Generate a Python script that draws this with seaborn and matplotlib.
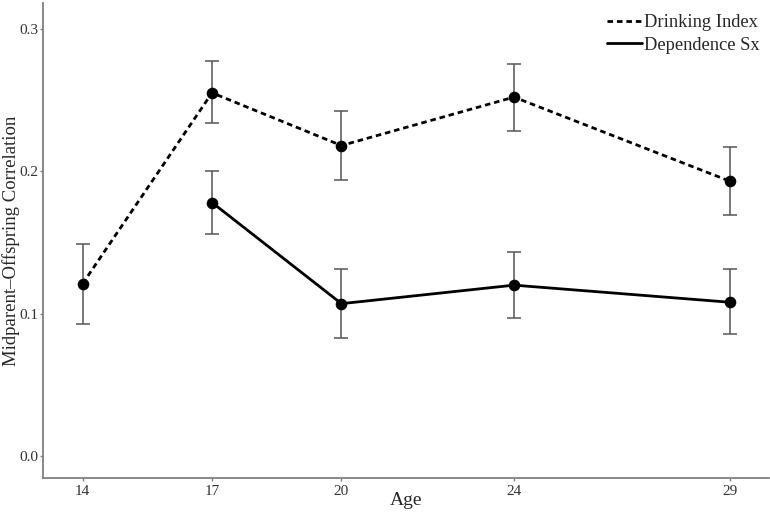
import numpy as np
import pandas as pd
import matplotlib
matplotlib.use("Agg")
import matplotlib.pyplot as plt
import seaborn as sns

# =====================================
# Data
# =====================================
ages = [14, 17, 20, 24, 29]
drink_r = [0.121, 0.255, 0.218, 0.252, 0.193]
drink_lo = [0.093, 0.234, 0.194, 0.228, 0.169]
drink_hi = [0.149, 0.277, 0.242, 0.275, 0.217]

dep_ages = [17, 20, 24, 29]
dep_r = [0.178, 0.107, 0.120, 0.108]
dep_lo = [0.156, 0.083, 0.097, 0.086]
dep_hi = [0.200, 0.131, 0.143, 0.131]

series = ["Drinking Index", "Dependence Sx"]
y_ticks = [0.0, 0.1, 0.2, 0.3]

df = pd.concat([
    pd.DataFrame({"age": ages, "r": drink_r, "lo": drink_lo,
                  "hi": drink_hi, "series": series[0]}),
    pd.DataFrame({"age": dep_ages, "r": dep_r, "lo": dep_lo,
                  "hi": dep_hi, "series": series[1]}),
], ignore_index=True)

# =====================================
# Plot
# =====================================
sns.set_theme(style="ticks")
plt.rcParams["font.family"] = ["Liberation Serif", "DejaVu Serif"]

fig = plt.figure(figsize=(7.7, 5.13), dpi=100)
ax = fig.add_axes([0.056, 0.069, 0.943, 0.925])

for name in series:
    sub = df[df["series"] == name]
    ax.errorbar(
        sub["age"], sub["r"],
        yerr=[sub["r"] - sub["lo"], sub["hi"] - sub["r"]],
        fmt="none", ecolor="#555555", elinewidth=1.1,
        capsize=4.8, capthick=1.1, zorder=1
    )

sns.lineplot(
    data=df, x="age", y="r",
    style="series", style_order=series,
    dashes={series[0]: (2, 1.4), series[1]: ""},
    color="black", linewidth=2, ax=ax, zorder=2
)

sns.scatterplot(
    data=df, x="age", y="r", color="black", s=70,
    edgecolor="black", linewidth=0, legend=False, ax=ax, zorder=3
)

ax.set_xlim(13.085, 29.915)
ax.set_ylim(-0.0151, 0.318)
ax.set_xticks(ages)
ax.set_yticks(y_ticks)
ax.set_yticklabels([f"{t:.1f}" for t in y_ticks])

ax.set_xlabel("Age", fontsize=14)
ax.set_ylabel("Midparent\u2013Offspring Correlation", fontsize=13.5)
ax.xaxis.set_label_coords(0.5, -0.03)
ax.yaxis.set_label_coords(-0.032, 0.5)

for side in ["top", "right"]:
    ax.spines[side].set_visible(False)
for side in ["left", "bottom"]:
    ax.spines[side].set_color("#7f7f7f")
    ax.spines[side].set_linewidth(1.3)
ax.tick_params(axis="both", colors="#7f7f7f", length=2.5, width=1,
               labelsize=11, labelcolor="#333333")
ax.tick_params(axis="y", pad=1)
ax.tick_params(axis="x", pad=3)

handles, labels = ax.get_legend_handles_labels()
leg = ax.legend(
    handles, labels, loc="upper right", bbox_to_anchor=(1.0, 0.996),
    frameon=False, fontsize=13.3, handlelength=1.9, handletextpad=0.15,
    labelspacing=0.3, borderaxespad=0.1
)

plt.savefig("out.png")
plt.close()
